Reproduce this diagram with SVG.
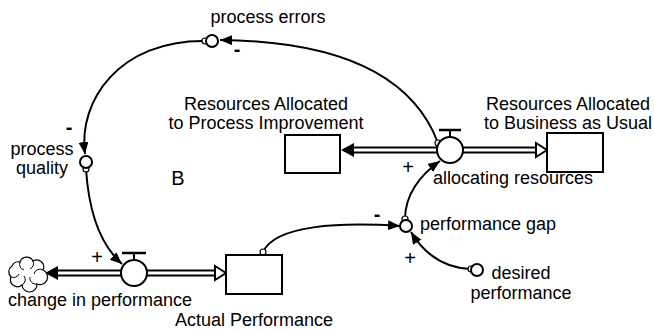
<svg xmlns="http://www.w3.org/2000/svg" width="654" height="331" viewBox="0 0 654 331">
<style>
text{font-family:"Liberation Sans",Arial,sans-serif;font-size:18px;fill:#000}
.m{text-anchor:middle}
.mn{font-weight:bold;font-size:20px;text-anchor:middle}
.pl{font-size:20px;text-anchor:middle}
.stock{fill:#fff;stroke:#000;stroke-width:2}
.aux{fill:#fff;stroke:#000;stroke-width:2}
.lnk{fill:none;stroke:#000;stroke-width:2;marker-end:url(#ah)}
.org{fill:#fff;stroke:#000;stroke-width:1.2}
.po{fill:none;stroke:#000;stroke-width:7}
.pi{fill:none;stroke:#fff;stroke-width:3}
</style>
<defs>
<marker id="ah" markerUnits="userSpaceOnUse" markerWidth="13" markerHeight="11" refX="12" refY="5" orient="auto">
<path d="M0,0 L12,5 L0,10 z" fill="#000"/>
</marker>
</defs>
<rect width="654" height="331" fill="#fff"/>

<g id="connectors">
<path class="lnk" d="M438,143 Q400,42 220,40"/>
<circle class="org" cx="438" cy="143" r="3"/>
<path class="lnk" d="M205,41 C120,40 78,100 85,154"/>
<circle class="org" cx="205" cy="41" r="3"/>
<path class="lnk" d="M86,169 C88,200 95,240 122,264"/>
<circle class="org" cx="86" cy="169" r="3"/>
<path class="lnk" d="M263,252 C275,225 340,222 400,226"/>
<circle class="org" cx="263" cy="252" r="3"/>
<path class="lnk" d="M471,269 C445,268 425,255 411,232"/>
<circle class="org" cx="471" cy="269" r="3"/>
<path class="lnk" d="M405,219 C405,195 420,175 440,161"/>
<circle class="org" cx="405" cy="219" r="3"/>
</g>

<g id="flow-change-in-performance">
<path class="po" d="M121,273 H56"/>
<path class="pi" d="M121,273 H56"/>
<path d="M45,273 L58,266 L58,280 z" fill="#000"/>
<path class="po" d="M147,273 H215"/>
<path class="pi" d="M145,273 H217"/>
<path d="M226,273 L215,266 L215,280 z" fill="#fff" stroke="#000" stroke-width="2"/>
<line x1="134" y1="260" x2="134" y2="253" stroke="#000" stroke-width="2"/>
<line x1="122" y1="253" x2="146" y2="253" stroke="#000" stroke-width="2.5"/>
<circle class="aux" cx="134" cy="273" r="13"/>
<text class="m" x="100" y="306">change in performance</text>
</g>

<g id="cloud">
<path d="M20,262 A7,7 0 0 1 33,261 A7,7 0 0 1 43,270 A7,7 0 0 1 37,284 A7,7 0 0 1 22,285 A7,7 0 0 1 11,277 A7,7 0 0 1 12,266 A7,7 0 0 1 20,262 z" fill="#fff" stroke="#000" stroke-width="1.2"/>
<path d="M20,262 A6,6 0 0 0 24,270 M33,261 A6,6 0 0 1 30,269 M43,270 A6,6 0 0 0 34,274 M37,284 A6,6 0 0 1 30,277 M22,285 A6,6 0 0 0 24,276 M11,277 A6,6 0 0 0 19,274" fill="none" stroke="#000" stroke-width="1"/>
</g>

<g id="actual-performance">
<rect class="stock" x="226" y="255" width="56" height="39"/>
<text class="m" x="254" y="326">Actual Performance</text>
</g>

<g id="flow-allocating-resources">
<path class="po" d="M437,150 H352"/>
<path class="pi" d="M437,150 H352"/>
<path d="M341,150 L354,143 L354,157 z" fill="#000"/>
<path class="po" d="M463,150 H536"/>
<path class="pi" d="M461,150 H538"/>
<path d="M547,150 L536,143 L536,157 z" fill="#fff" stroke="#000" stroke-width="2"/>
<line x1="450" y1="137" x2="450" y2="130" stroke="#000" stroke-width="2"/>
<line x1="439" y1="130" x2="461" y2="130" stroke="#000" stroke-width="2.5"/>
<circle class="aux" cx="450" cy="150" r="13"/>
<text class="m" x="513" y="184">allocating resources</text>
</g>

<g id="resources-process-improvement">
<rect class="stock" x="285" y="135" width="55" height="38"/>
<text class="m" x="266" y="110">Resources Allocated</text>
<text class="m" x="266" y="129">to Process Improvement</text>
</g>

<g id="resources-business-as-usual">
<rect class="stock" x="547" y="133" width="56" height="39"/>
<text class="m" x="568" y="110">Resources Allocated</text>
<text class="m" x="568" y="129">to Business as Usual</text>
</g>

<g id="process-errors">
<circle class="aux" cx="212" cy="41" r="6"/>
<text class="m" x="268" y="23">process errors</text>
</g>

<g id="process-quality">
<circle class="aux" cx="86" cy="162" r="6"/>
<text class="m" x="42" y="155">process</text>
<text class="m" x="42" y="174">quality</text>
</g>

<g id="performance-gap">
<circle class="aux" cx="406" cy="226" r="6"/>
<text x="420" y="230">performance gap</text>
</g>

<g id="desired-performance">
<circle class="aux" cx="477" cy="270" r="6"/>
<text class="m" x="521" y="279">desired</text>
<text class="m" x="521" y="299">performance</text>
</g>

<g id="labels">
<text class="m" x="178" y="185" style="font-size:20px">B</text>
<text class="mn" x="237" y="56">-</text>
<text class="mn" x="69" y="134">-</text>
<text class="pl" x="97" y="264">+</text>
<text class="mn" x="377" y="221">-</text>
<text class="pl" x="410" y="265">+</text>
<text class="pl" x="408" y="174">+</text>
</g>
</svg>
